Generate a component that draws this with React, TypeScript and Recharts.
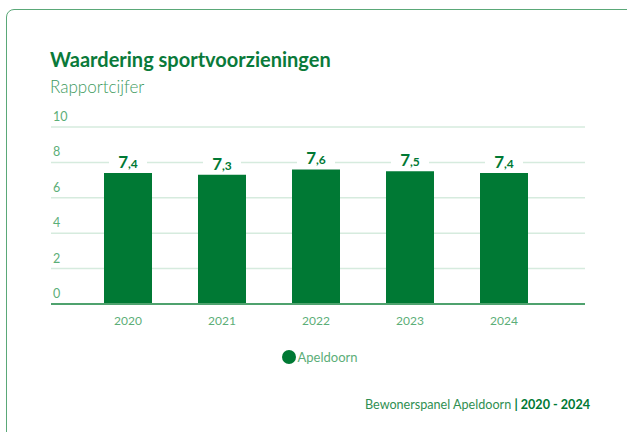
import React from "react";
import { BarChart, Bar, XAxis, YAxis, CartesianGrid, LabelList } from "recharts";

const years = ["2020", "2021", "2022", "2023", "2024"];
const apeldoorn = [7.4, 7.3, 7.6, 7.5, 7.4];
const yTicks = [0, 2, 4, 6, 8, 10];

const data = years.map((year, i) => ({ year, Apeldoorn: apeldoorn[i] }));

const FONT = "Lato, 'Noto Sans', sans-serif";
const DARK = "#007934";
const LIGHT = "#5cae78";

const YTick = ({ x, y, payload }: any) => (
  <text x={x + 2} y={y - 6} fill={LIGHT} fontSize={12.5} fontFamily={FONT} textAnchor="start">
    {payload.value}
  </text>
);

const ValueLabel = ({ x, y, width, value }: any) => {
  const [whole, dec] = value.toFixed(1).split(".");
  const cx = x + width / 2;
  return (
    <g>
      <rect x={cx - 19} y={y - 20} width={38} height={16} fill="#fff" />
      <text x={cx} y={y - 5} textAnchor="middle" fill={DARK} fontFamily={FONT} fontWeight={700}>
        <tspan fontSize={17}>{whole}</tspan>
        <tspan fontSize={12}>,{dec}</tspan>
      </text>
    </g>
  );
};

export default function App() {
  return (
    <div style={{ position: "absolute", left: 0, top: 0, width: 627, height: 432, overflow: "hidden", background: "#fff", fontFamily: FONT }}>
      <div style={{ position: "absolute", left: 6, top: 9, width: 660, height: 460, border: "1px solid #5aa878", borderRadius: 8 }} />
      <div style={{ position: "absolute", left: 50, top: 47, fontSize: 20, fontWeight: 700, color: "#0a7a3a" }}>
        Waardering sportvoorzieningen
      </div>
      <div style={{ position: "absolute", left: 50, top: 76, fontSize: 17, fontWeight: 300, color: "#3d9a5e" }}>Rapportcijfer</div>
      <div style={{ position: "absolute", left: 0, top: 0 }}>
        <BarChart width={627} height={432} data={data} margin={{ top: 127, right: 42, bottom: 98, left: 50 }}>
          <CartesianGrid vertical={false} stroke="#d6ebde" strokeWidth={1.5} />
          <XAxis
            dataKey="year"
            height={30}
            padding={{ left: 30, right: 34 }}
            axisLine={{ stroke: "#4fa26e", strokeWidth: 2 }}
            tickLine={false}
            tick={{ fill: LIGHT, fontSize: 12, fontFamily: FONT }}
            tickMargin={6}
          />
          <YAxis
            domain={[0, 10]}
            ticks={yTicks}
            width={1}
            axisLine={false}
            tickLine={false}
            tickSize={0}
            tickMargin={0}
            tick={<YTick />}
          />
          <Bar dataKey="Apeldoorn" fill={DARK} barSize={48} isAnimationActive={false}>
            <LabelList dataKey="Apeldoorn" content={<ValueLabel />} />
          </Bar>
        </BarChart>
      </div>
      <div style={{ position: "absolute", left: 0, width: 640, top: 349, display: "flex", justifyContent: "center", alignItems: "center", fontSize: 13, color: LIGHT }}>
        <span style={{ width: 14, height: 14, borderRadius: "50%", background: DARK, display: "inline-block", marginRight: 1 }} />
        Apeldoorn
      </div>
      <div style={{ position: "absolute", right: 37, top: 397, fontSize: 12.6, color: "#2f8f52" }}>
        Bewonerspanel Apeldoorn <span style={{ color: DARK, fontWeight: 700 }}>| 2020 - 2024</span>
      </div>
    </div>
  );
}
